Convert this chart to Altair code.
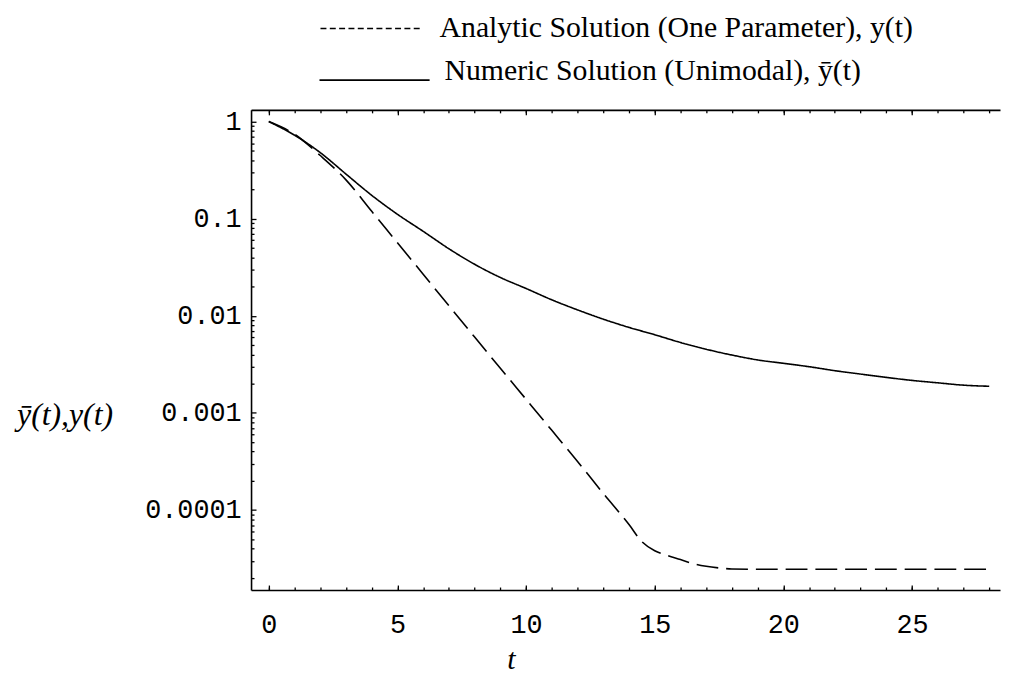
import altair as alt
import pandas as pd

# ---- data ----
numeric_t = [0, 1, 2, 3, 4, 5, 6, 7, 8, 9, 10, 11, 12, 13, 14, 15, 16, 17, 18, 19, 20,
             21, 22, 23, 24, 25, 26, 27, 28]
numeric_y = [1.0, 0.724, 0.479, 0.288, 0.174, 0.111, 0.0741, 0.049, 0.0339, 0.0248,
             0.0191, 0.0146, 0.0115, 0.00923, 0.00759, 0.00638, 0.00531, 0.00452, 0.00394,
             0.00351, 0.00324, 0.00299, 0.00272, 0.00251, 0.00232, 0.00216, 0.00204,
             0.00193, 0.00188]

analytic_t = [0, 1, 2, 3, 4, 5, 6, 7, 8, 9, 10, 11, 12, 13, 14, 14.5, 15, 15.5, 16, 16.5,
              17, 17.5, 18, 19, 20, 22, 24, 26, 28]
analytic_y = [1.0, 0.741, 0.447, 0.251, 0.119, 0.0565, 0.0268, 0.0127, 0.00603, 0.00288,
              0.00138, 0.000661, 0.000316, 0.000148, 7.08e-5, 4.72e-5, 3.8e-5, 3.39e-5,
              3.09e-5, 2.8e-5, 2.63e-5, 2.53e-5, 2.47e-5, 2.45e-5, 2.45e-5, 2.45e-5,
              2.45e-5, 2.45e-5, 2.45e-5]

series_names = ["Analytic", "Numeric"]
legend_labels = ["Analytic Solution (One Parameter), y(t)",
                 "Numeric Solution (Unimodal), \u0233(t)"]
x_title = "t"
y_title = "\u0233(t),y(t)"

x_major = [0, 5, 10, 15, 20, 25]
x_minor = list(range(0, 29))
y_major = [1e-4, 1e-3, 1e-2, 1e-1, 1.0]
y_minor = [k * 10.0 ** e for e in range(-5, 0) for k in range(2, 10)]

df = pd.concat([
    pd.DataFrame({"t": analytic_t, "v": analytic_y, "series": series_names[0]}),
    pd.DataFrame({"t": numeric_t, "v": numeric_y, "series": series_names[1]}),
], ignore_index=True)

xs = alt.Scale(domain=[-0.69, 28.42], nice=False, zero=False)
ys = alt.Scale(type="log", domain=[1.5e-5, 1.32], nice=False)

MONO = "Liberation Mono"
SERIF = "Liberation Serif"


def tick_axis(orient, values, size, offset):
    return alt.Axis(orient=orient, values=values, domain=False, labels=False, ticks=True,
                    tickSize=size, offset=offset, tickColor="black", tickWidth=1.3,
                    grid=False)


def domain_axis(orient):
    return alt.Axis(orient=orient, domain=True, domainColor="black", domainWidth=1.6,
                    labels=False, ticks=False, grid=False)


base = alt.Chart(df)

lines = base.mark_line(color="black", strokeWidth=1.6, interpolate="monotone").encode(
    x=alt.X("t:Q", scale=xs, title=x_title,
            axis=alt.Axis(orient="bottom", values=x_major, domain=True, domainColor="black",
                          domainWidth=1.6, ticks=False, tickSize=0, grid=False,
                          labelFont=MONO, labelFontSize=27, labelColor="black",
                          labelPadding=22, labelBaseline="top",
                          titleFont=SERIF, titleFontStyle="italic", titleFontWeight="normal",
                          titleFontSize=30, titleColor="black", titleX=262, titleY=70,
                          titleAlign="center", titleBaseline="middle")),
    y=alt.Y("v:Q", scale=ys, title=y_title,
            axis=alt.Axis(orient="left", values=y_major, format="~g", domain=True,
                          domainColor="black", domainWidth=1.6, ticks=False, tickSize=0,
                          grid=False, labelFont=MONO, labelFontSize=27, labelColor="black",
                          labelPadding=10,
                          titleFont=SERIF, titleFontStyle="italic", titleFontWeight="normal",
                          titleFontSize=32, titleColor="black", titleAngle=0,
                          titleX=-188, titleY=307, titleAlign="center",
                          titleBaseline="middle")),
    strokeDash=alt.StrokeDash("series:N",
                              scale=alt.Scale(domain=series_names, range=[[22, 8], [1, 0]]),
                              legend=None),
    detail="series:N",
)

ghost = base.mark_line(strokeOpacity=0)

major_ticks = ghost.encode(
    x=alt.X("t:Q", scale=xs, title=None, axis=tick_axis("bottom", x_major, 5, -5)),
    y=alt.Y("v:Q", scale=ys, title=None, axis=tick_axis("left", y_major, 5, -5)),
    detail="series:N",
)
minor_ticks = ghost.encode(
    x=alt.X("t:Q", scale=xs, title=None, axis=tick_axis("bottom", x_minor, 3, -3)),
    y=alt.Y("v:Q", scale=ys, title=None, axis=tick_axis("left", y_minor, 3, -3)),
    detail="series:N",
)
top_domain = ghost.encode(
    x=alt.X("t:Q", scale=xs, title=None, axis=domain_axis("top")),
    y=alt.Y("v:Q", scale=ys, axis=None),
    detail="series:N",
)
top_major = ghost.encode(
    x=alt.X("t:Q", scale=xs, title=None, axis=tick_axis("top", x_major, 5, -5)),
    y=alt.Y("v:Q", scale=ys, axis=None),
    detail="series:N",
)
top_minor = ghost.encode(
    x=alt.X("t:Q", scale=xs, title=None, axis=tick_axis("top", x_minor, 3, -3)),
    y=alt.Y("v:Q", scale=ys, axis=None),
    detail="series:N",
)

# ---- legend (drawn above the frame) ----
leg1 = pd.DataFrame({"label": [legend_labels[0]]})
leg2 = pd.DataFrame({"label": [legend_labels[1]]})
leg_text1 = alt.Chart(leg1).mark_text(align="left", baseline="alphabetic", font=SERIF,
                                      fontSize=30, color="black").encode(
    text="label:N", x=alt.value(190), y=alt.value(-73))
leg_text2 = alt.Chart(leg2).mark_text(align="left", baseline="alphabetic", font=SERIF,
                                      fontSize=30, color="black").encode(
    text="label:N", x=alt.value(195), y=alt.value(-30))
leg_rule1 = alt.Chart(leg1).mark_rule(color="black", strokeWidth=1.6,
                                      strokeDash=[6, 3.4]).encode(
    x=alt.value(70), x2=alt.value(172), y=alt.value(-82))
leg_rule2 = alt.Chart(leg2).mark_rule(color="black", strokeWidth=1.6).encode(
    x=alt.value(69), x2=alt.value(180), y=alt.value(-30))

chart = alt.layer(
    lines, major_ticks, minor_ticks, top_domain, top_major, top_minor,
    leg_text1, leg_text2, leg_rule1, leg_rule2,
).resolve_axis(x="independent", y="independent").properties(
    width=755, height=484,
    autosize=alt.AutoSizeParams(type="none"),
    padding={"left": 245, "top": 100, "right": 2, "bottom": 83},
    background="white",
).configure_view(strokeWidth=0)

chart.save("out.html", embed_options={"renderer": "svg", "actions": False})
